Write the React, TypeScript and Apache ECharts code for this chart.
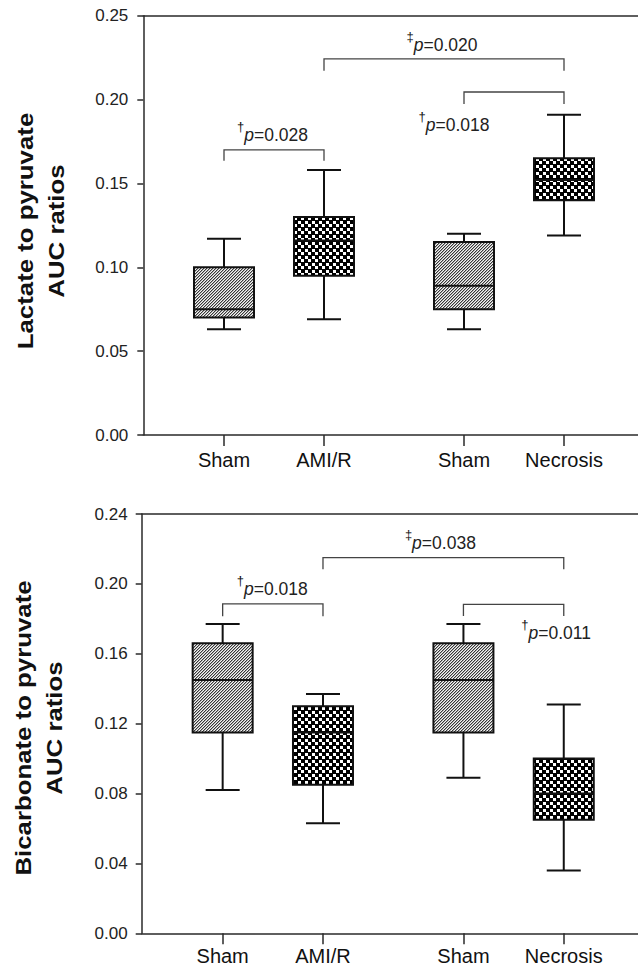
import React, { useEffect, useRef } from 'react';
import * as echarts from 'echarts';

// ---------- data ----------
const groupNames = ['Sham', 'AMI/R', 'Sham', 'Necrosis'];
const groupPositions = [1, 2, 3.4, 4.4];
const groupFills = ['hatch', 'check', 'hatch', 'check'];

// [min, Q1, median, Q3, max]
const lactateStats = [
  [0.063, 0.070, 0.075, 0.100, 0.117],
  [0.069, 0.095, 0.116, 0.130, 0.158],
  [0.063, 0.075, 0.089, 0.115, 0.120],
  [0.119, 0.140, 0.152, 0.165, 0.191],
];
const bicarbStats = [
  [0.082, 0.115, 0.145, 0.166, 0.177],
  [0.063, 0.085, 0.115, 0.130, 0.137],
  [0.089, 0.115, 0.145, 0.166, 0.177],
  [0.036, 0.065, 0.080, 0.100, 0.131],
];

const lactateYTicks = [0, 0.05, 0.1, 0.15, 0.2, 0.25];
const bicarbYTicks = [0, 0.04, 0.08, 0.12, 0.16, 0.2, 0.24];

// brackets: [x1, x2, yLine, yLegEnd]
const lactateBrackets = [
  [1, 2, 0.170, 0.1635],
  [2, 4.4, 0.2243, 0.2172],
  [3.4, 4.4, 0.2045, 0.1973],
];
const bicarbBrackets = [
  [1, 2, 0.1885, 0.1815],
  [2, 4.4, 0.215, 0.2084],
  [3.4, 4.4, 0.1883, 0.1816],
];

// notes: [x, y]
const lactateNotePos = [[1.485, 0.179], [3.18, 0.2327], [3.30, 0.185]];
const lactateNoteMark = ['†', '‡', '†'];
const lactateNoteP = ['0.028', '0.020', '0.018'];
const bicarbNotePos = [[1.495, 0.1969], [3.17, 0.2232], [4.324, 0.1717]];
const bicarbNoteMark = ['†', '‡', '†'];
const bicarbNoteP = ['0.018', '0.038', '0.011'];

const lactateTitle = 'Lactate to pyruvate\nAUC ratios';
const bicarbTitle = 'Bicarbonate to pyruvate\nAUC ratios';

// ---------- helpers ----------
const FONT = '"Liberation Sans", Arial, sans-serif';
const X_MIN = 0.193;
const X_MAX = 5.14;

function makePattern(kind: string) {
  const c = document.createElement('canvas');
  const size = kind === 'hatch' ? 3 : 7;
  c.width = size;
  c.height = size;
  const ctx = c.getContext('2d')!;
  const img = ctx.createImageData(size, size);
  for (let y = 0; y < size; y++) {
    for (let x = 0; x < size; x++) {
      let v = 255;
      if (kind === 'hatch') {
        const k = (x + y) % 3;
        v = k === 0 ? 55 : k === 1 ? 170 : 245;
      } else {
        const white = (x < 3 && y < 3) || (x >= 4 && y >= 4);
        v = white ? 255 : 0;
      }
      const o = (y * size + x) * 4;
      img.data[o] = v;
      img.data[o + 1] = v;
      img.data[o + 2] = v;
      img.data[o + 3] = 255;
    }
  }
  ctx.putImageData(img, 0, 0);
  return { image: c.toDataURL(), repeat: 'repeat', imageWidth: size, imageHeight: size };
}

function labelFor(v: number) {
  const i = groupPositions.findIndex((p) => Math.abs(p - v) < 1e-6);
  return i >= 0 ? groupNames[i] : '';
}

function bottomX(gridIndex: number, margin: number) {
  return {
    type: 'value',
    gridIndex,
    position: 'bottom',
    min: X_MIN,
    max: X_MAX,
    axisLine: { show: true, onZero: false, lineStyle: { color: '#2a2a2a', width: 1.5 } },
    axisTick: { show: true, length: 11, customValues: groupPositions, lineStyle: { color: '#2a2a2a', width: 1.5 } },
    axisLabel: {
      show: true,
      customValues: groupPositions,
      formatter: (v: number) => labelFor(v),
      fontSize: 20,
      fontFamily: FONT,
      color: '#111',
      margin,
    },
    splitLine: { show: false },
  };
}

function topX(gridIndex: number) {
  return {
    type: 'value',
    gridIndex,
    position: 'top',
    min: X_MIN,
    max: X_MAX,
    axisLine: { show: true, onZero: false, lineStyle: { color: '#2a2a2a', width: 1.5 } },
    axisTick: { show: false },
    axisLabel: { show: false },
    splitLine: { show: false },
  };
}

function yAx(gridIndex: number, ticks: number[], margin: number) {
  return {
    type: 'value',
    gridIndex,
    min: ticks[0],
    max: ticks[ticks.length - 1],
    interval: ticks[1] - ticks[0],
    axisLine: { show: true, onZero: false, lineStyle: { color: '#2a2a2a', width: 1.5 } },
    axisTick: { show: true, length: 6, lineStyle: { color: '#2a2a2a', width: 1.5 } },
    axisLabel: {
      formatter: (v: number) => v.toFixed(2),
      fontSize: 17,
      fontFamily: FONT,
      color: '#222',
      margin,
    },
    splitLine: { show: false },
  };
}

function boxSeries(xi: number, yi: number, stats: number[][], patterns: any) {
  return {
    type: 'custom',
    xAxisIndex: xi,
    yAxisIndex: yi,
    data: stats.map((s, i) => [groupPositions[i], ...s]),
    renderItem: (params: any, api: any) => {
      const x = api.value(0);
      const cx = api.coord([x, api.value(1)])[0];
      const yMin = api.coord([x, api.value(1)])[1];
      const yQ1 = api.coord([x, api.value(2)])[1];
      const yMed = api.coord([x, api.value(3)])[1];
      const yQ3 = api.coord([x, api.value(4)])[1];
      const yMax = api.coord([x, api.value(5)])[1];
      const hb = 30;
      const hc = 17;
      const st = { stroke: '#111', lineWidth: 2 };
      const ln = (x1: number, y1: number, x2: number, y2: number) => ({
        type: 'line',
        shape: { x1, y1, x2, y2 },
        style: st,
      });
      const fill = patterns[groupFills[params.dataIndex]];
      return {
        type: 'group',
        children: [
          ln(cx, yQ3, cx, yMax),
          ln(cx - hc, yMax, cx + hc, yMax),
          ln(cx, yQ1, cx, yMin),
          ln(cx - hc, yMin, cx + hc, yMin),
          {
            type: 'rect',
            shape: { x: cx - hb, y: yQ3, width: hb * 2, height: yQ1 - yQ3 },
            style: { fill, stroke: '#111', lineWidth: 2 },
          },
          ln(cx - hb, yMed, cx + hb, yMed),
        ],
      };
    },
  };
}

function bracketSeries(xi: number, yi: number, brackets: number[][]) {
  return {
    type: 'custom',
    xAxisIndex: xi,
    yAxisIndex: yi,
    data: brackets,
    renderItem: (params: any, api: any) => {
      const p1 = api.coord([api.value(0), api.value(3)]);
      const p2 = api.coord([api.value(0), api.value(2)]);
      const p3 = api.coord([api.value(1), api.value(2)]);
      const p4 = api.coord([api.value(1), api.value(3)]);
      return {
        type: 'polyline',
        shape: { points: [p1, p2, p3, p4] },
        style: { stroke: '#444', lineWidth: 1.3, fill: 'none' },
      };
    },
  };
}

function noteSeries(xi: number, yi: number, pos: number[][], marks: string[], ps: string[]) {
  return {
    type: 'custom',
    xAxisIndex: xi,
    yAxisIndex: yi,
    data: pos,
    renderItem: (params: any, api: any) => {
      const i = params.dataIndex;
      const p = api.coord([api.value(0), api.value(1)]);
      return {
        type: 'text',
        x: p[0],
        y: p[1],
        style: {
          text: `{d|${marks[i]}}{i|p}{n|=${ps[i]}}`,
          align: 'center',
          verticalAlign: 'middle',
          fill: '#222',
          fontFamily: FONT,
          rich: {
            d: { fontSize: 13, fontFamily: FONT, fill: '#111', verticalAlign: 'top', lineHeight: 12 },
            i: { fontSize: 17.5, fontFamily: FONT, fontStyle: 'italic', fill: '#222', lineHeight: 30 },
            n: { fontSize: 17.5, fontFamily: FONT, fill: '#222', lineHeight: 30 },
          },
        },
      };
    },
  };
}

function titleText(x: number, y: number, text: string) {
  return {
    type: 'text',
    x,
    y,
    rotation: Math.PI / 2,
    scaleX: 1.2,
    style: {
      text,
      fontSize: 21.5,
      fontWeight: 'bold',
      fontFamily: FONT,
      fill: '#111',
      align: 'center',
      verticalAlign: 'middle',
      lineHeight: 31,
    },
  };
}

export default function App() {
  const ref = useRef<HTMLDivElement>(null);
  useEffect(() => {
    if (!ref.current) return;
    const chart = echarts.init(ref.current, null, { renderer: 'svg' });
    const patterns = { hatch: makePattern('hatch'), check: makePattern('check') };
    chart.setOption({
      animation: false,
      backgroundColor: '#fff',
      grid: [
        { left: 143.3, top: 15.7, width: 494.7, height: 419.3 },
        { left: 141.7, top: 514, width: 496.3, height: 419.3 },
      ],
      xAxis: [bottomX(0, 15), topX(0), bottomX(1, 13), topX(1)],
      yAxis: [yAx(0, lactateYTicks, 15), yAx(1, bicarbYTicks, 14)],
      graphic: [titleText(41, 231, lactateTitle), titleText(39, 728, bicarbTitle)],
      series: [
        boxSeries(0, 0, lactateStats, patterns),
        bracketSeries(0, 0, lactateBrackets),
        noteSeries(0, 0, lactateNotePos, lactateNoteMark, lactateNoteP),
        boxSeries(2, 1, bicarbStats, patterns),
        bracketSeries(2, 1, bicarbBrackets),
        noteSeries(2, 1, bicarbNotePos, bicarbNoteMark, bicarbNoteP),
      ],
    });
    return () => chart.dispose();
  }, []);
  return (
    <div
      ref={ref}
      style={{ position: 'absolute', left: 0, top: 0, width: 638, height: 967 }}
    />
  );
}
